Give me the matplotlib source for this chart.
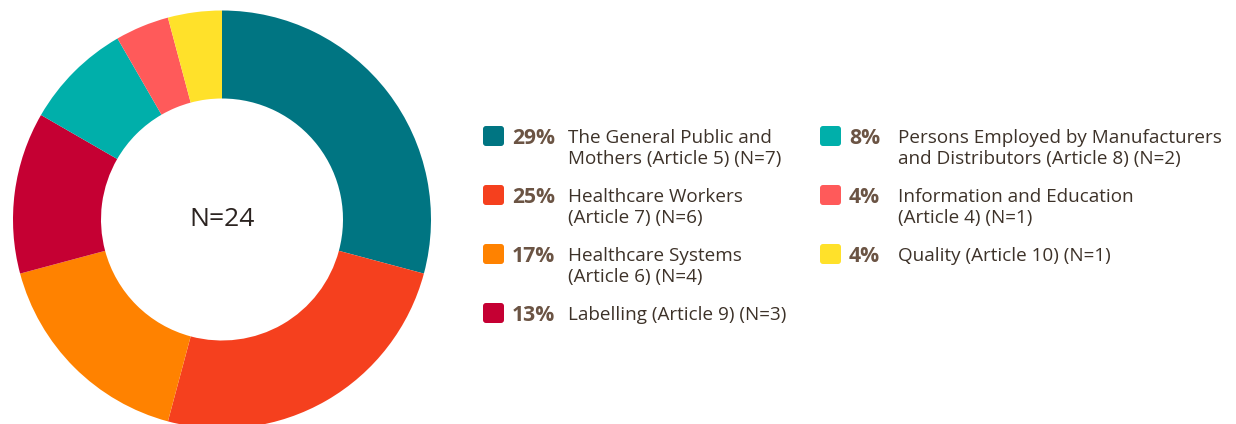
import matplotlib.pyplot as plt
from matplotlib.patches import FancyBboxPatch

# data
counts = [7, 6, 4, 3, 2, 1, 1]
labels = ["The General Public and\nMothers (Article 5) (N=7)",
          "Healthcare Workers\n(Article 7) (N=6)",
          "Healthcare Systems\n(Article 6) (N=4)",
          "Labelling (Article 9) (N=3)",
          "Persons Employed by Manufacturers\nand Distributors (Article 8) (N=2)",
          "Information and Education\n(Article 4) (N=1)",
          "Quality (Article 10) (N=1)"]
colors = ["#007582", "#F5401E", "#FF8200", "#C50033", "#00AFAA", "#FF5A5A", "#FFE12A"]
total = sum(counts)

plt.rcParams['font.family'] = ['Open Sans', 'DejaVu Sans']
W, H = 1236, 424
fig = plt.figure(figsize=(W / 100, H / 100), dpi=100)

# donut: center (221.5, 219.5) px, outer r 209, inner r 121
cx, cy, R, r = 222, 219.5, 209, 121
ax = fig.add_axes([(cx - R) / W, (H - cy - R) / H, 2 * R / W, 2 * R / H])
ax.pie(counts, colors=colors, startangle=90, counterclock=False, radius=1,
       wedgeprops=dict(width=(R - r) / R, linewidth=0))
ax.set_xlim(-1, 1)
ax.set_ylim(-1, 1)
ax.text(0, 0, f"N={total}", ha='center', va='center', fontsize=19, color='#2b2320')

# legend in pixel coords
lax = fig.add_axes([0, 0, 1, 1])
lax.set_xlim(0, W)
lax.set_ylim(H, 0)
lax.axis('off')

col_x = [483, 820]
rows = [136, 195, 254, 313]
label_dx = [85, 78]
pct_dx = [29, 29]
for i, (n, lab, c) in enumerate(zip(counts, labels, colors)):
    col = 0 if i < 4 else 1
    y = rows[i if i < 4 else i - 4]
    x = col_x[col]
    lax.add_patch(FancyBboxPatch((x + 3, y - 7), 15, 14, boxstyle="round,pad=3",
                                 fc=c, ec='none'))
    pct = int(100 * n / total + 0.5)
    lax.text(x + pct_dx[col], y + 2.5, f"{pct}%", ha='left', va='center', fontsize=15.2,
             fontweight='bold', color='#6B5444')
    lax.text(x + label_dx[col], y - 7, lab, ha='left', va='top', fontsize=13.6,
             color='#3D3229', linespacing=1.2)

fig.savefig("out.png", dpi=100)
